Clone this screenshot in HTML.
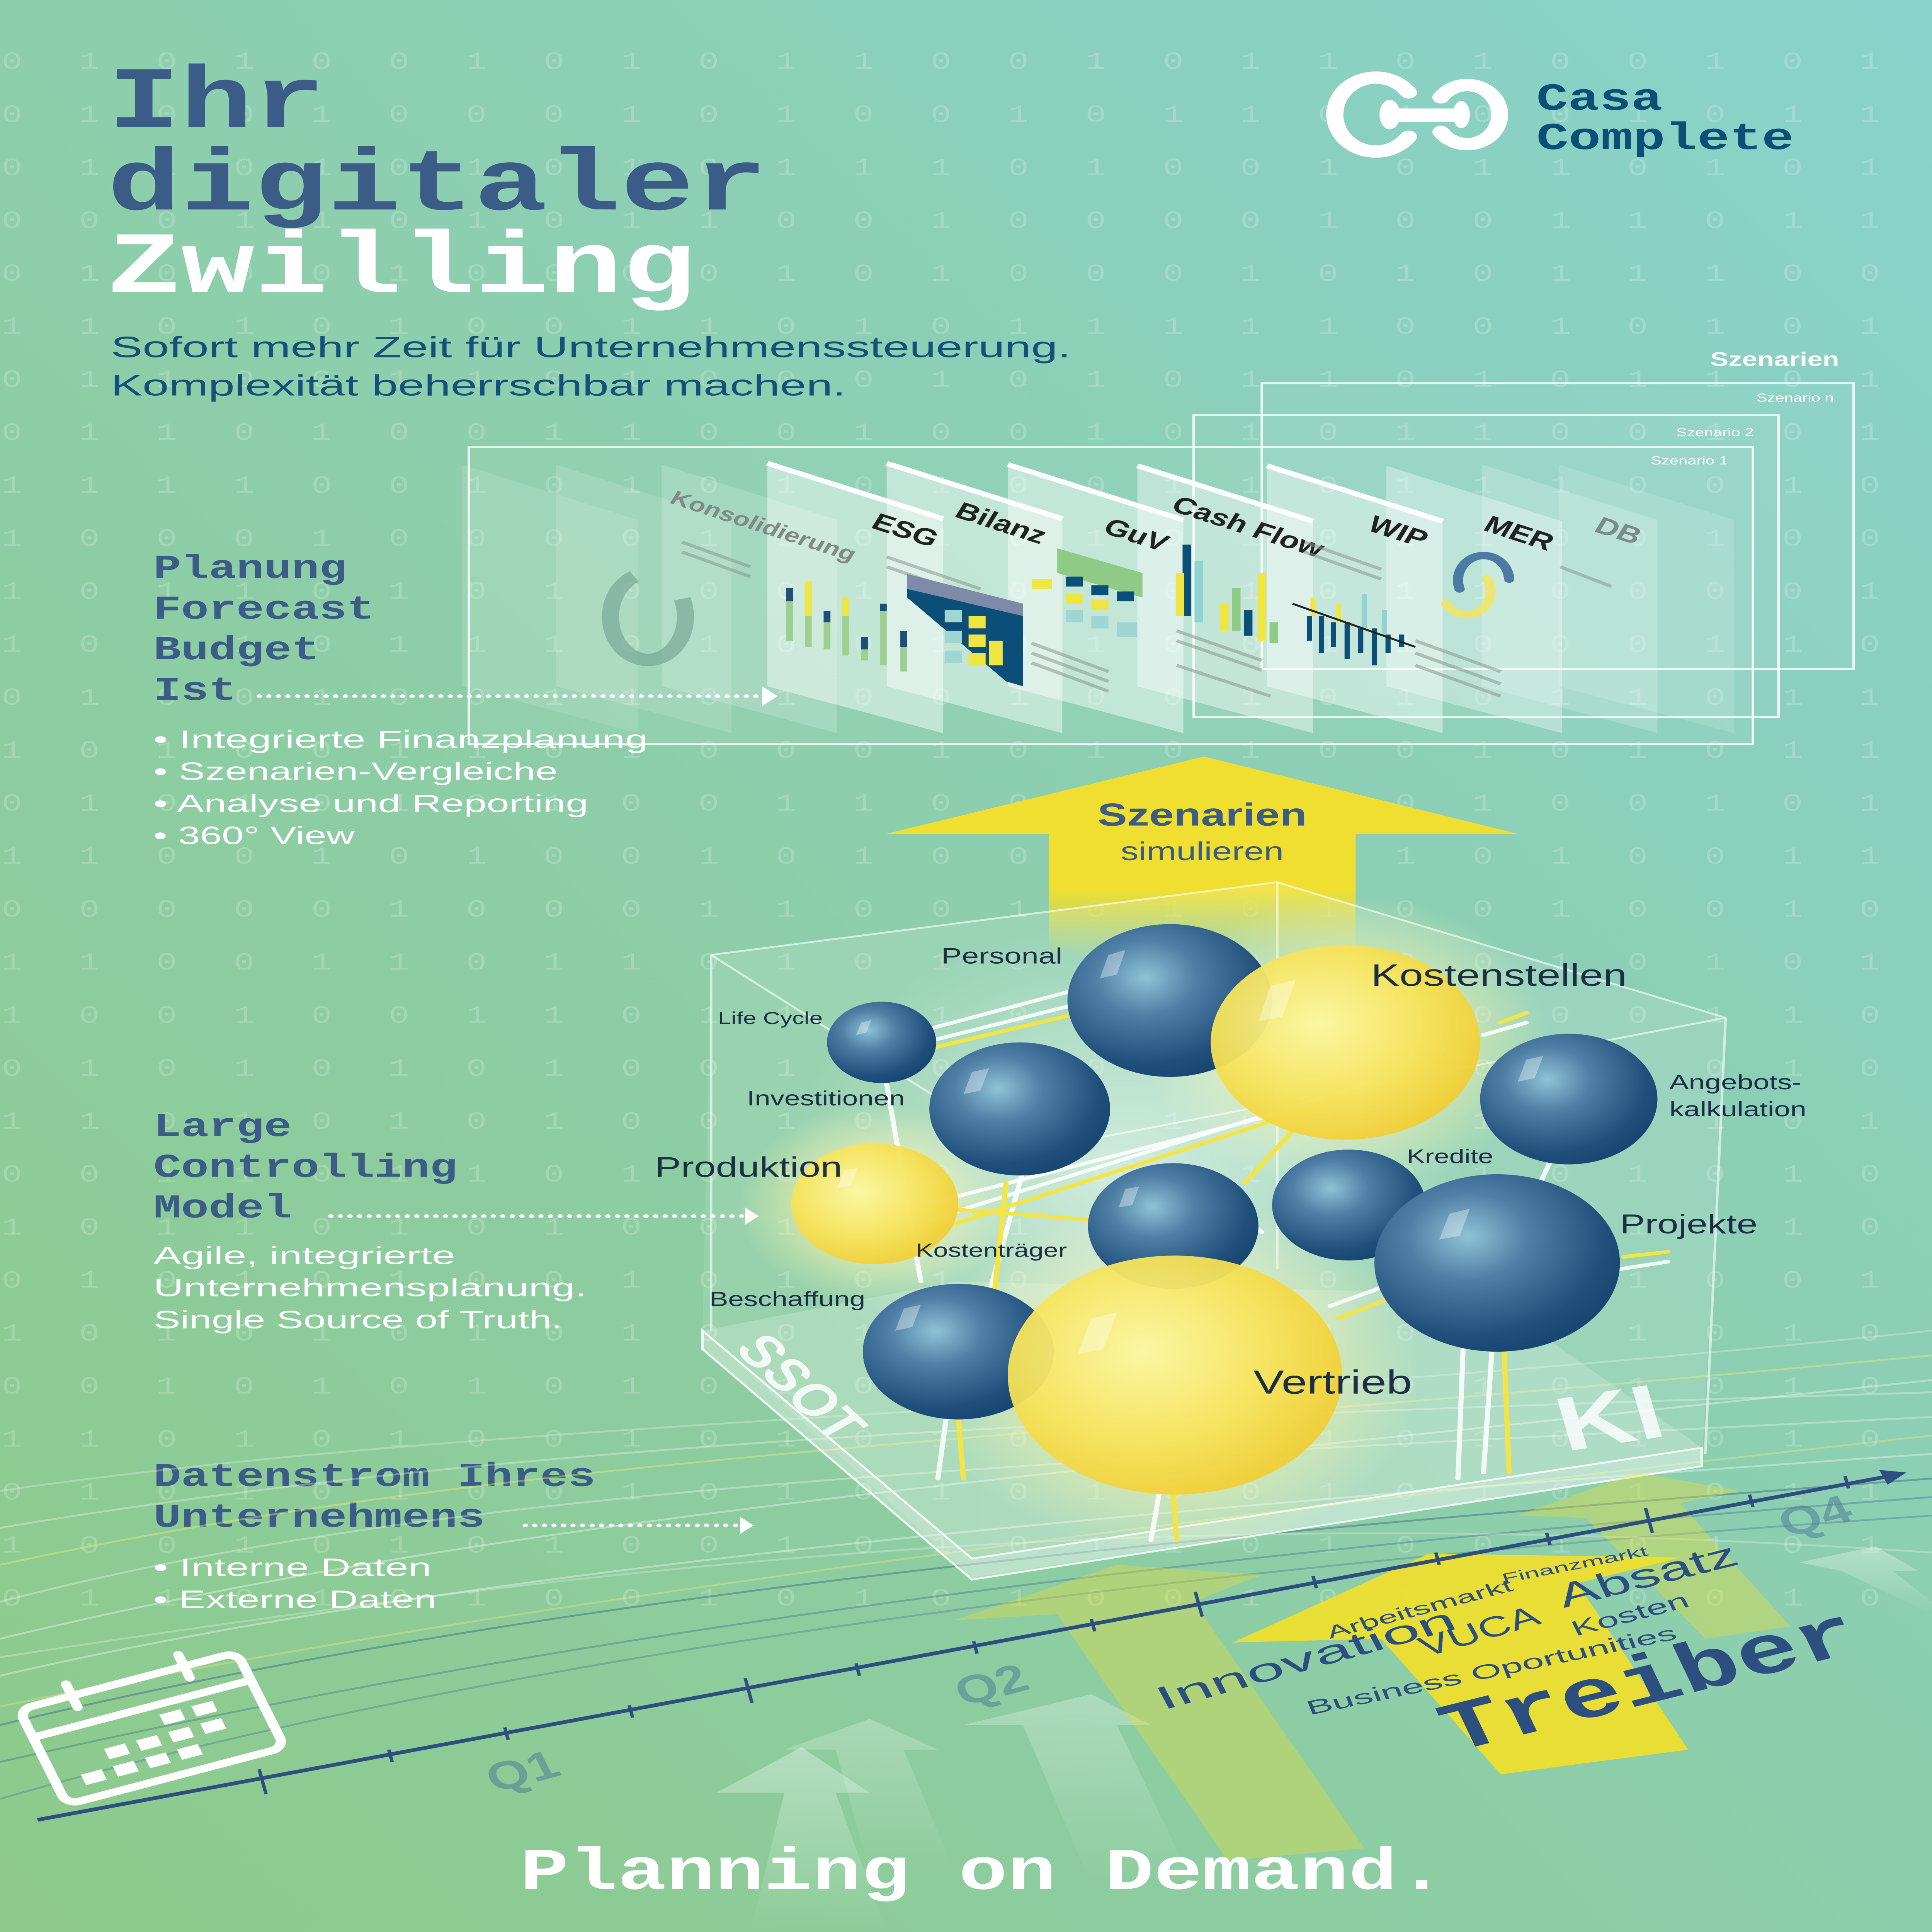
<!DOCTYPE html>
<html><head><meta charset="utf-8"><style>
html,body{margin:0;padding:0;width:100%;height:100%;overflow:hidden;}
svg{display:block;position:fixed;left:0;top:0;width:100vw;height:100vh;overflow:hidden;}
</style></head><body>
<svg xmlns="http://www.w3.org/2000/svg" width="100%" height="100%" viewBox="0 0 1133 1568" preserveAspectRatio="none" overflow="hidden">
<defs>
<clipPath id="page"><rect width="1133" height="1568"/></clipPath>
<linearGradient id="bg" x1="0" y1="1" x2="1" y2="0">
<stop offset="0" stop-color="#8dca8b"/><stop offset="0.5" stop-color="#8dceac"/><stop offset="1" stop-color="#89d2cc"/>
</linearGradient>
<radialGradient id="blue" cx="0.38" cy="0.35" r="0.7">
<stop offset="0" stop-color="#8ec3d6"/><stop offset="0.35" stop-color="#4f7fa6"/><stop offset="0.8" stop-color="#204f7c"/><stop offset="1" stop-color="#174570"/>
</radialGradient>
<radialGradient id="yel" cx="0.4" cy="0.4" r="0.7">
<stop offset="0" stop-color="#fbf6a0"/><stop offset="0.55" stop-color="#f6e35a"/><stop offset="1" stop-color="#f0c92c"/>
</radialGradient>
<radialGradient id="glow" cx="0.5" cy="0.5" r="0.5">
<stop offset="0" stop-color="#fffbd0" stop-opacity="0.9"/><stop offset="0.6" stop-color="#fff6a8" stop-opacity="0.45"/><stop offset="1" stop-color="#fff6a8" stop-opacity="0"/>
</radialGradient>
<radialGradient id="wglow" cx="0.5" cy="0.5" r="0.5">
<stop offset="0" stop-color="#ffffff" stop-opacity="0.55"/><stop offset="1" stop-color="#ffffff" stop-opacity="0"/>
</radialGradient>
<linearGradient id="shaft" x1="0" y1="0" x2="0" y2="1">
<stop offset="0" stop-color="#f0df30"/><stop offset="0.45" stop-color="#f0df30"/><stop offset="1" stop-color="#f0df30" stop-opacity="0"/>
</linearGradient>
<linearGradient id="warr" x1="0" y1="0" x2="0" y2="1">
<stop offset="0" stop-color="#ffffff" stop-opacity="0.35"/><stop offset="1" stop-color="#ffffff" stop-opacity="0"/>
</linearGradient>
</defs>
<g clip-path="url(#page)">
<rect width="1133" height="1568" fill="url(#bg)"/>

<g font-family="Liberation Mono, monospace" font-size="20" fill="#ffffff" fill-opacity="0.2" letter-spacing="33.4">
<text x="1" y="56">0101001010110010110100101</text>
<text x="1" y="99">0100100010100101101001011</text>
<text x="1" y="142">0110101010111010010110101</text>
<text x="1" y="185">0001101011001000010011011</text>
<text x="1" y="228">0100010000101000101011100</text>
<text x="1" y="271">1101010011010111110010101</text>
<text x="1" y="314">0110011010001010110101101</text>
<text x="1" y="357">0110100110010010101100101</text>
<text x="1" y="400">1111001010101001101110010</text>
<text x="1" y="443">1000100001101010101100100</text>
<text x="1" y="486">1011010100010010101100001</text>
<text x="1" y="529">1001011101001010011000110</text>
<text x="1" y="572">0100100110100100101011011</text>
<text x="1" y="615">1010011010001010100101011</text>
<text x="1" y="658">0101010100110011010100101</text>
<text x="1" y="701">1100101001010010011010011</text>
<text x="1" y="744">0000010001100101010010010</text>
<text x="1" y="787">1100110110101011000010101</text>
<text x="1" y="830">1001001101101000101000110</text>
<text x="1" y="873">0101010100110101011001010</text>
<text x="1" y="916">1101010100101011010100101</text>
<text x="1" y="959">0011011010010110100101010</text>
<text x="1" y="1002">1011010100100101001011010</text>
<text x="1" y="1045">0101010010101010100101001</text>
<text x="1" y="1088">1010101010010101010101010</text>
<text x="1" y="1131">0010101010101001010101010</text>
<text x="1" y="1174">1101010010101010010101010</text>
<text x="1" y="1217">0101010010101010010101011</text>
<text x="1" y="1260">1001010100101011010010101</text>
<text x="1" y="1303">0110101001010100101010010</text>
</g>

<g font-family="Liberation Mono, monospace" font-weight="bold">
<text x="63" y="103" font-size="71" fill="#3b5c86">Ihr</text>
<text x="63" y="170" font-size="71" fill="#3b5c86" textLength="387" lengthAdjust="spacingAndGlyphs">digitaler</text>
<text x="63" y="237" font-size="71" fill="#ffffff" textLength="345" lengthAdjust="spacingAndGlyphs">Zwilling</text>
</g>
<g font-family="Liberation Sans, sans-serif" fill="#15507a" font-size="24">
<text x="65" y="290" textLength="563" lengthAdjust="spacingAndGlyphs">Sofort mehr Zeit für Unternehmenssteuerung.</text>
<text x="65" y="321" textLength="431" lengthAdjust="spacingAndGlyphs">Komplexität beherrschbar machen.</text>
</g>

<g fill="none" stroke="#ffffff" stroke-width="10" stroke-linecap="round">
<path d="M826 75 A24 30 0 1 0 826 111"/>
<path d="M845 79 A19 24 0 1 1 845 107"/>
</g>
<rect x="812" y="88" width="48" height="11" fill="#ffffff"/>
<ellipse cx="815" cy="93" rx="6" ry="12" fill="#ffffff"/>
<ellipse cx="857" cy="93" rx="5" ry="11" fill="#ffffff"/>
<g font-family="Liberation Mono, monospace" font-weight="bold" fill="#0b4f78" font-size="31">
<text x="901" y="89" textLength="74" lengthAdjust="spacingAndGlyphs">Casa</text>
<text x="901" y="121" textLength="151" lengthAdjust="spacingAndGlyphs">Complete</text>
</g>

<text x="1003" y="297" font-family="Liberation Sans, sans-serif" font-weight="bold" font-size="16" fill="#ffffff">Szenarien</text>
<g fill="#ffffff" fill-opacity="0.05" stroke="#ffffff" stroke-opacity="0.85" stroke-width="1.5">
<rect x="740" y="311" width="347" height="232"/>
<rect x="700" y="337" width="343" height="245"/>
<rect x="275" y="363" width="753" height="241"/>
</g>
<g font-family="Liberation Sans, sans-serif" font-size="9.5" fill="#ffffff">
<text x="1030" y="326">Szenario n</text>
<text x="983" y="354">Szenario 2</text>
<text x="968" y="377">Szenario 1</text>
</g>

<g fill="#ffffff" stroke="none">
<polygon points="271,377 374,422 374,595 271,557" fill-opacity="0.12"/>
<polygon points="326,377 429,422 429,595 326,557" fill-opacity="0.14"/>
<polygon points="388,377 491,422 491,595 388,557" fill-opacity="0.18"/>
<polygon points="450,376 553,421 553,595 450,557" fill-opacity="0.45"/>
<polygon points="520,376 623,421 623,595 520,557" fill-opacity="0.45"/>
<polygon points="591,377 694,422 694,595 591,557" fill-opacity="0.45"/>
<polygon points="667,378 770,423 770,595 667,557" fill-opacity="0.42"/>
<polygon points="743,378 846,423 846,595 743,557" fill-opacity="0.42"/>
<polygon points="813,378 916,423 916,595 813,557" fill-opacity="0.35"/>
<polygon points="869,377 972,422 972,595 869,557" fill-opacity="0.2"/>
<polygon points="914,377 1017,422 1017,595 914,557" fill-opacity="0.15"/>
</g>
<g stroke="#ffffff" stroke-width="4">
<line x1="450" y1="376" x2="553" y2="421"/><line x1="520" y1="376" x2="623" y2="421"/>
<line x1="591" y1="377" x2="694" y2="422"/><line x1="667" y1="378" x2="770" y2="423"/>
<line x1="743" y1="378" x2="846" y2="423"/>
</g>
<g font-family="Liberation Sans, sans-serif" font-weight="bold" font-size="19">
<text transform="translate(392,408) rotate(24)" fill="#808a86" font-size="16">Konsolidierung</text>
<text transform="translate(510,428) rotate(24)" fill="#222">ESG</text>
<text transform="translate(559,419) rotate(24)" fill="#222">Bilanz</text>
<text transform="translate(646,432) rotate(24)" fill="#222">GuV</text>
<text transform="translate(686,414) rotate(24)" fill="#222">Cash Flow</text>
<text transform="translate(801,430) rotate(24)" fill="#222">WIP</text>
<text transform="translate(869,430) rotate(24)" fill="#222">MER</text>
<text transform="translate(934,431) rotate(24)" fill="#7b8b88">DB</text>
</g>
<g stroke="#8a9590" stroke-opacity="0.55" stroke-width="2.5">
<line x1="400" y1="440" x2="440" y2="460"/><line x1="400" y1="448" x2="440" y2="468"/>
<line x1="520" y1="452" x2="575" y2="478"/><line x1="520" y1="460" x2="575" y2="486"/>
<line x1="605" y1="522" x2="650" y2="545"/><line x1="605" y1="530" x2="650" y2="553"/><line x1="605" y1="538" x2="650" y2="561"/>
<line x1="690" y1="512" x2="740" y2="536"/><line x1="690" y1="520" x2="740" y2="544"/><line x1="690" y1="540" x2="745" y2="565"/>
<line x1="765" y1="440" x2="810" y2="462"/><line x1="765" y1="448" x2="810" y2="470"/>
<line x1="830" y1="520" x2="880" y2="545"/><line x1="830" y1="530" x2="880" y2="555"/><line x1="830" y1="540" x2="880" y2="565"/>
<line x1="915" y1="460" x2="945" y2="476"/>
</g>
<path d="M372 468 A22 35 0 1 0 400 486" fill="none" stroke="#6f9e8f" stroke-opacity="0.6" stroke-width="10"/>
<g stroke-width="4">
<line x1="463" y1="477" x2="463" y2="520" stroke="#9dd08f"/><line x1="463" y1="477" x2="463" y2="488" stroke="#1e4f7a"/>
<line x1="474" y1="472" x2="474" y2="525" stroke="#9dd08f"/><line x1="474" y1="472" x2="474" y2="500" stroke="#f0e642"/>
<line x1="485" y1="496" x2="485" y2="527" stroke="#9dd08f"/><line x1="485" y1="496" x2="485" y2="505" stroke="#1e4f7a"/>
<line x1="496" y1="485" x2="496" y2="532" stroke="#9dd08f"/><line x1="496" y1="485" x2="496" y2="500" stroke="#f0e642"/>
<line x1="507" y1="517" x2="507" y2="536" stroke="#9dd08f"/><line x1="507" y1="517" x2="507" y2="527" stroke="#1e4f7a"/>
<line x1="518" y1="490" x2="518" y2="540" stroke="#9dd08f"/><line x1="518" y1="490" x2="518" y2="496" stroke="#1e4f7a"/>
<line x1="530" y1="512" x2="530" y2="545" stroke="#9dd08f"/><line x1="530" y1="512" x2="530" y2="525" stroke="#1e4f7a"/>
</g>
<polygon points="532,466 600,490 600,557 590,553 532,485" fill="#0b4f78"/>
<polygon points="532,466 600,490 600,500 532,478" fill="#7d8aa8"/>
<g fill="#f0e642"><rect x="568" y="500" width="10" height="10"/><rect x="568" y="515" width="10" height="10"/><rect x="568" y="530" width="10" height="10"/><rect x="580" y="520" width="8" height="20"/></g>
<g fill="#9fd6d4"><rect x="554" y="495" width="10" height="10"/><rect x="554" y="512" width="10" height="10"/><rect x="554" y="528" width="10" height="10"/></g>
<polygon points="620,445 670,465 670,485 620,465" fill="#8fcb87"/>
<g fill="#0b4f78"><rect x="640" y="475" width="10" height="8"/><rect x="655" y="480" width="10" height="8"/><rect x="625" y="468" width="10" height="8"/></g>
<g fill="#f0e642"><rect x="605" y="470" width="12" height="8"/><rect x="625" y="482" width="10" height="8"/><rect x="640" y="487" width="10" height="8"/></g>
<g fill="#9fd6d4"><rect x="625" y="495" width="10" height="10"/><rect x="640" y="500" width="10" height="10"/><rect x="655" y="505" width="12" height="12"/></g>
<g stroke-width="5">
<line x1="696" y1="442" x2="696" y2="500" stroke="#0b4f78"/>
<line x1="703" y1="455" x2="703" y2="505" stroke="#8fd3d3"/>
<line x1="692" y1="465" x2="692" y2="500" stroke="#f0e642"/>
<line x1="718" y1="490" x2="718" y2="512" stroke="#f0e642"/>
<line x1="725" y1="477" x2="725" y2="512" stroke="#8fcb87"/>
<line x1="732" y1="495" x2="732" y2="516" stroke="#0b4f78"/>
<line x1="740" y1="465" x2="740" y2="520" stroke="#f0e642"/>
<line x1="747" y1="505" x2="747" y2="522" stroke="#8fcb87"/>
</g>
<g stroke="#0b4f78" stroke-width="3">
<line x1="768" y1="500" x2="768" y2="520"/><line x1="775" y1="500" x2="775" y2="530"/><line x1="782" y1="505" x2="782" y2="525"/>
<line x1="790" y1="505" x2="790" y2="535"/><line x1="798" y1="510" x2="798" y2="530"/><line x1="806" y1="510" x2="806" y2="540"/>
<line x1="814" y1="515" x2="814" y2="530"/><line x1="822" y1="515" x2="822" y2="525"/>
</g>
<g stroke-width="3"><line x1="770" y1="485" x2="770" y2="500" stroke="#f0e642"/><line x1="785" y1="490" x2="785" y2="505" stroke="#f0e642"/><line x1="800" y1="482" x2="800" y2="510" stroke="#8fd3d3"/><line x1="812" y1="495" x2="812" y2="515" stroke="#8fd3d3"/></g>
<line x1="758" y1="490" x2="830" y2="525" stroke="#222" stroke-width="1.5"/>
<path d="M856 478 A15 20 0 1 1 885 470" fill="none" stroke="#4c7aa2" stroke-width="6" stroke-linecap="round"/>
<path d="M872 470 A12 16 0 1 1 848 490" fill="none" stroke="#f2e55a" stroke-opacity="0.8" stroke-width="6" stroke-linecap="round"/>

<g font-family="Liberation Mono, monospace" font-weight="bold" font-size="27" fill="#3b5c86">
<text x="90" y="469">Planung</text>
<text x="90" y="502">Forecast</text>
<text x="90" y="535">Budget</text>
<text x="90" y="568">Ist</text>
<text x="90" y="922">Large</text>
<text x="90" y="955">Controlling</text>
<text x="90" y="988">Model</text>
<text x="90" y="1206">Datenstrom Ihres</text>
<text x="90" y="1239">Unternehmens</text>
</g>
<g fill="none" stroke="#ffffff" stroke-width="3" stroke-dasharray="0.1 5.5" stroke-linecap="round">
<line x1="152" y1="565" x2="447" y2="565"/>
<line x1="194" y1="987" x2="437" y2="987"/>
<line x1="308" y1="1238" x2="434" y2="1238"/>
</g>
<g fill="#ffffff">
<polygon points="447,557 456,565 447,573"/>
<polygon points="437,980 445,987 437,994"/>
<polygon points="434,1231 442,1238 434,1245"/>
</g>
<g font-family="Liberation Sans, sans-serif" font-size="20.5" fill="#ffffff">
<text x="90" y="607" textLength="290" lengthAdjust="spacingAndGlyphs">• Integrierte Finanzplanung</text>
<text x="90" y="633" textLength="237" lengthAdjust="spacingAndGlyphs">• Szenarien-Vergleiche</text>
<text x="90" y="659" textLength="255" lengthAdjust="spacingAndGlyphs">• Analyse und Reporting</text>
<text x="90" y="685" textLength="118" lengthAdjust="spacingAndGlyphs">• 360° View</text>
<text x="90" y="1026" textLength="177" lengthAdjust="spacingAndGlyphs">Agile, integrierte</text>
<text x="90" y="1052" textLength="254" lengthAdjust="spacingAndGlyphs">Unternehmensplanung.</text>
<text x="90" y="1078" textLength="240" lengthAdjust="spacingAndGlyphs">Single Source of Truth.</text>
<text x="90" y="1279" textLength="163" lengthAdjust="spacingAndGlyphs">• Interne Daten</text>
<text x="90" y="1305" textLength="166" lengthAdjust="spacingAndGlyphs">• Externe Daten</text>
</g>

<g fill="none" stroke-width="1.5">
<path d="M0 1330 C300 1230 600 1200 1133 1120" stroke="#ffffff" stroke-opacity="0.35"/>
<path d="M0 1300 C250 1210 550 1190 1133 1150" stroke="#ffffff" stroke-opacity="0.3"/>
<path d="M0 1270 C300 1180 600 1170 1133 1100" stroke="#f4ee70" stroke-opacity="0.4"/>
<path d="M0 1240 C300 1170 650 1150 1133 1130" stroke="#ffffff" stroke-opacity="0.3"/>
<path d="M0 1360 C250 1280 600 1230 1133 1180" stroke="#ffffff" stroke-opacity="0.35"/>
<path d="M0 1400 C300 1300 650 1250 1133 1200" stroke="#3a6486" stroke-opacity="0.45"/>
<path d="M0 1430 C350 1320 700 1260 1133 1215" stroke="#3a6486" stroke-opacity="0.35"/>
<path d="M0 1460 C300 1340 700 1270 1133 1230" stroke="#3a6486" stroke-opacity="0.3"/>
<path d="M0 1385 C300 1300 650 1240 1133 1165" stroke="#f4ee70" stroke-opacity="0.35"/>
<path d="M0 1210 C300 1150 650 1150 1133 1080" stroke="#ffffff" stroke-opacity="0.25"/>
<path d="M0 1345 C400 1260 700 1220 1133 1260" stroke="#ffffff" stroke-opacity="0.25"/>
</g>

<g fill="url(#warr)">
<polygon points="420,1455 470,1418 510,1455 490,1455 520,1568 440,1568 460,1455"/>
<polygon points="460,1420 510,1395 550,1420 530,1420 560,1520 510,1520 490,1420" opacity="0.7"/>
<polygon points="565,1400 640,1375 675,1400 655,1400 700,1530 640,1530 600,1400" opacity="0.8"/>
<polygon points="1055,1268 1100,1255 1125,1275 1110,1275 1133,1300 1133,1310 1080,1275"/>
</g>

<rect x="615" y="677" width="180" height="100" fill="url(#shaft)"/>
<polygon points="519,677 706,614 891,677" fill="#f0df30"/>
<text x="705" y="670" text-anchor="middle" font-family="Liberation Sans, sans-serif" font-weight="bold" font-size="26" fill="#3a5c85">Szenarien</text>
<text x="705" y="698" text-anchor="middle" font-family="Liberation Sans, sans-serif" font-size="21" fill="#3a5c85">simulieren</text>

<polygon points="417,775 749,716 1012,826 600,935" fill="#ffffff" fill-opacity="0.12"/>
<polygon points="417,775 600,935 570,1280 412,1080" fill="#ffffff" fill-opacity="0.1"/>
<polygon points="600,935 1012,826 998,1190 570,1280" fill="#ffffff" fill-opacity="0.12"/>
<g fill="none" stroke="#ffffff" stroke-opacity="0.6" stroke-width="1.5">
<polyline points="417,775 749,716 1012,826"/>
<line x1="417" y1="775" x2="417" y2="1080"/>
<line x1="749" y1="716" x2="749" y2="1030"/>
<line x1="1012" y1="826" x2="1000" y2="1180"/>
<line x1="417" y1="775" x2="600" y2="935"/>
<line x1="600" y1="935" x2="1012" y2="826"/>
</g>
<polygon points="412,1080 570,1265 998,1175 998,1190 570,1282 412,1095" fill="#ffffff" fill-opacity="0.35" stroke="#ffffff" stroke-opacity="0.8" stroke-width="1.5"/>
<polygon points="412,1080 570,1265 998,1175 870,1050 560,1040" fill="#ffffff" fill-opacity="0.2"/>
<text transform="translate(430,1095) rotate(52)" font-family="Liberation Sans, sans-serif" font-weight="bold" font-size="36" fill="#ffffff" fill-opacity="0.85">SSOT</text>
<text transform="translate(918,1178) rotate(-12)" font-family="Liberation Sans, sans-serif" font-weight="bold" font-size="62" fill="#ffffff" fill-opacity="0.8">KI</text>

<circle cx="789" cy="846" r="120" fill="url(#glow)"/>
<circle cx="689" cy="1116" r="145" fill="url(#glow)"/>
<circle cx="513" cy="977" r="80" fill="url(#glow)"/>
<circle cx="660" cy="950" r="200" fill="url(#wglow)"/>

<g stroke-width="3" stroke-linecap="round">
<g stroke="#ffffff" stroke-opacity="0.85">
<line x1="545" y1="835" x2="640" y2="800"/><line x1="545" y1="845" x2="640" y2="812"/>
<line x1="545" y1="990" x2="800" y2="880"/><line x1="550" y1="975" x2="760" y2="900"/>
<line x1="520" y1="880" x2="540" y2="1040"/><line x1="600" y1="950" x2="570" y2="1100"/>
<line x1="690" y1="950" x2="740" y2="1000"/><line x1="760" y1="980" x2="840" y2="1010"/>
<line x1="780" y1="1060" x2="840" y2="1030"/><line x1="910" y1="940" x2="890" y2="1000"/>
<line x1="950" y1="1030" x2="978" y2="1024"/><line x1="870" y1="840" x2="895" y2="830"/>
<line x1="555" y1="1150" x2="550" y2="1200"/><line x1="680" y1="1210" x2="675" y2="1250"/>
<line x1="875" y1="1095" x2="870" y2="1195"/><line x1="858" y1="1095" x2="855" y2="1200"/>
</g>
<g stroke="#f4e545">
<line x1="548" y1="850" x2="640" y2="820"/>
<line x1="545" y1="1000" x2="790" y2="890"/>
<line x1="545" y1="980" x2="640" y2="990"/>
<line x1="730" y1="960" x2="770" y2="900"/>
<line x1="590" y1="960" x2="580" y2="1090"/>
<line x1="785" y1="1070" x2="840" y2="1040"/>
<line x1="880" y1="830" x2="895" y2="822"/><line x1="952" y1="1020" x2="978" y2="1016"/>
<line x1="562" y1="1150" x2="565" y2="1200"/><line x1="688" y1="1210" x2="690" y2="1250"/>
<line x1="882" y1="1095" x2="885" y2="1195"/>
</g>
</g>

<ellipse cx="686" cy="812" rx="60" ry="62" fill="url(#blue)"/>
<ellipse cx="517" cy="846" rx="32" ry="33" fill="url(#blue)"/>
<ellipse cx="598" cy="900" rx="53" ry="54" fill="url(#blue)"/>
<ellipse cx="920" cy="892" rx="52" ry="53" fill="url(#blue)"/>
<ellipse cx="789" cy="846" rx="79" ry="79" fill="url(#yel)" fill-opacity="0.95"/>
<ellipse cx="791" cy="978" rx="45" ry="45" fill="url(#blue)"/>
<ellipse cx="688" cy="995" rx="50" ry="51" fill="url(#blue)"/>
<ellipse cx="513" cy="977" rx="49" ry="49" fill="url(#yel)" fill-opacity="0.95"/>
<ellipse cx="878" cy="1025" rx="72" ry="72" fill="url(#blue)"/>
<ellipse cx="562" cy="1097" rx="56" ry="55" fill="url(#blue)"/>
<ellipse cx="689" cy="1116" rx="98" ry="97" fill="url(#yel)" fill-opacity="0.95"/>
<g fill="#ffffff" fill-opacity="0.35">
<path d="M650 775 l10 -4 l-5 20 l-10 3z"/>
<path d="M745 800 l15 -5 l-8 30 l-14 4z"/>
<path d="M505 830 l6 -2 l-3 10 l-6 2z"/>
<path d="M570 870 l10 -3 l-5 18 l-10 3z"/>
<path d="M895 860 l10 -3 l-5 18 l-10 3z"/>
<path d="M850 985 l12 -4 l-6 22 l-12 3z"/>
<path d="M530 1062 l10 -3 l-5 18 l-10 3z"/>
<path d="M640 1070 l15 -5 l-8 30 l-15 4z"/>
<path d="M660 965 l8 -2 l-4 15 l-8 2z"/>
<path d="M495 950 l8 -2 l-4 14 l-8 2z"/>
</g>

<g font-family="Liberation Sans, sans-serif" fill="#1c2f44">
<text x="552" y="782" font-size="18">Personal</text>
<text x="804" y="800" font-size="25">Kostenstellen</text>
<text x="421" y="831" font-size="14">Life Cycle</text>
<text x="438" y="897" font-size="16.5">Investitionen</text>
<text x="979" y="884" font-size="17">Angebots-</text>
<text x="979" y="906" font-size="17">kalkulation</text>
<text x="825" y="944" font-size="16">Kredite</text>
<text x="384" y="955" font-size="23">Produktion</text>
<text x="950" y="1001" font-size="22">Projekte</text>
<text x="537" y="1020" font-size="15.5">Kostenträger</text>
<text x="416" y="1060" font-size="16.5">Beschaffung</text>
<text x="735" y="1131" font-size="27">Vertrieb</text>
</g>

<polygon points="560,1315 655,1270 740,1278 700,1300 800,1500 720,1510 620,1310" fill="#f0df30" fill-opacity="0.35"/>
<polygon points="890,1230 960,1195 1020,1210 985,1220 1050,1320 1000,1330 930,1232" fill="#f0df30" fill-opacity="0.35"/>
<polygon points="723,1333 838,1261 986,1264 925,1285 990,1420 880,1440 810,1330" fill="#f2e028" fill-opacity="0.9"/>

<line x1="22" y1="1477" x2="1108" y2="1198" stroke="#2d4f7f" stroke-width="3"/>
<polygon points="1118,1195 1102,1193 1107,1205" fill="#2d4f7f"/>
<g stroke="#2d4f7f" stroke-width="2">
<line x1="152" y1="1436" x2="156" y2="1456"/>
<line x1="228" y1="1420" x2="230" y2="1430"/><line x1="296" y1="1402" x2="298" y2="1412"/><line x1="369" y1="1384" x2="371" y2="1394"/>
<line x1="437" y1="1362" x2="441" y2="1382"/>
<line x1="502" y1="1350" x2="504" y2="1360"/><line x1="571" y1="1332" x2="573" y2="1342"/><line x1="640" y1="1314" x2="642" y2="1324"/>
<line x1="701" y1="1292" x2="705" y2="1312"/>
<line x1="770" y1="1279" x2="772" y2="1289"/><line x1="842" y1="1260" x2="844" y2="1270"/><line x1="907" y1="1244" x2="909" y2="1254"/>
<line x1="965" y1="1224" x2="969" y2="1244"/>
<line x1="1026" y1="1213" x2="1028" y2="1223"/><line x1="1082" y1="1198" x2="1084" y2="1208"/>
</g>
<g font-family="Liberation Sans, sans-serif" font-weight="bold" font-size="32" fill="#4c7d98" fill-opacity="0.55">
<text transform="translate(290,1455) rotate(-20)">Q1</text>
<text transform="translate(565,1385) rotate(-20)">Q2</text>
<text transform="translate(1048,1248) rotate(-20)">Q4</text>
</g>

<g font-family="Liberation Sans, sans-serif" fill="#2d4f7f" lengthAdjust="spacingAndGlyphs">
<text transform="translate(882,1285) rotate(-15)" font-size="11" textLength="88" lengthAdjust="spacingAndGlyphs">Finanzmarkt</text>
<text transform="translate(780,1330) rotate(-20)" font-size="14" textLength="115" lengthAdjust="spacingAndGlyphs">Arbeitsmarkt</text>
<text transform="translate(917,1305) rotate(-19)" font-size="27" textLength="110" lengthAdjust="spacingAndGlyphs">Absatz</text>
<text transform="translate(836,1345) rotate(-22)" font-size="23" textLength="74" lengthAdjust="spacingAndGlyphs">VUCA</text>
<text transform="translate(924,1328) rotate(-20)" font-size="17" textLength="72" lengthAdjust="spacingAndGlyphs">Kosten</text>
<text transform="translate(682,1388) rotate(-21)" font-size="26" textLength="186" lengthAdjust="spacingAndGlyphs">Innovation</text>
<text transform="translate(768,1392) rotate(-16)" font-size="16" textLength="225" lengthAdjust="spacingAndGlyphs">Business Oportunities</text>
<text transform="translate(852,1422) rotate(-19)" font-size="56" font-family="Liberation Mono, monospace" font-weight="bold" textLength="255" lengthAdjust="spacingAndGlyphs">Treiber</text>
</g>

<g transform="translate(88,1400) rotate(-20)" fill="none" stroke="#ffffff" stroke-width="6" stroke-linejoin="round">
<rect x="-68" y="-38" width="136" height="82" rx="8"/>
<line x1="-68" y1="-14" x2="68" y2="-14"/>
<line x1="-35" y1="-48" x2="-35" y2="-28" stroke-linecap="round"/>
<line x1="35" y1="-48" x2="35" y2="-28" stroke-linecap="round"/>
<g fill="#ffffff" stroke="none">
<rect x="8" y="-6" width="13" height="9"/><rect x="28" y="-6" width="13" height="9"/>
<rect x="-32" y="9" width="13" height="9"/><rect x="-12" y="9" width="13" height="9"/><rect x="8" y="9" width="13" height="9"/><rect x="28" y="9" width="13" height="9"/>
<rect x="-52" y="24" width="13" height="9"/><rect x="-32" y="24" width="13" height="9"/><rect x="-12" y="24" width="13" height="9"/><rect x="8" y="24" width="13" height="9"/>
</g>
</g>

<text x="305" y="1533" font-family="Liberation Mono, monospace" font-weight="bold" font-size="48" fill="#ffffff" textLength="543" lengthAdjust="spacingAndGlyphs">Planning on Demand.</text>
</g>
</svg>
</body></html>
